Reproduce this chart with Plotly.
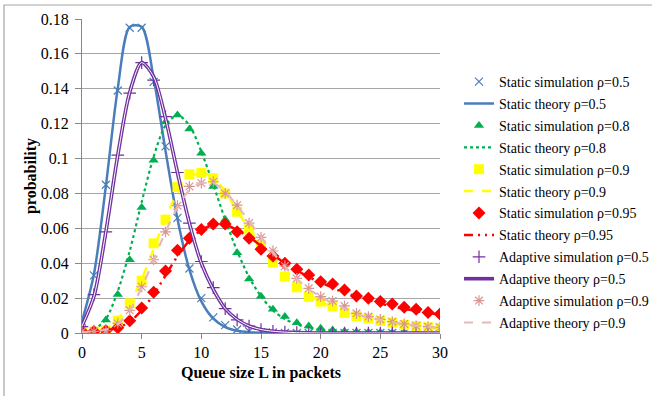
import plotly.graph_objects as go

# Queue length L (packets)
queue_len = list(range(0, 31))

static_sim_05 = [0.0065, 0.033, 0.085, 0.139, 0.175, 0.175, 0.144, 0.107, 0.066, 0.037, 0.020,
                 0.009, 0.0045, 0.002, 0.001, 0.0005, 0.0003, 0.0001, 0, 0, 0,
                 0, 0, 0, 0, 0, 0, 0, 0, 0, 0]
static_th_05 = [0.0067, 0.0337, 0.0842, 0.1404, 0.1755, 0.1755, 0.1462, 0.1044, 0.0653, 0.0363, 0.0181,
                0.0082, 0.0034, 0.0013, 0.0005, 0.0002, 0.0001, 0, 0, 0, 0,
                0, 0, 0, 0, 0, 0, 0, 0, 0, 0]

static_sim_08 = [0.0005, 0.0017, 0.0075, 0.022, 0.042, 0.072, 0.099, 0.121, 0.125, 0.117, 0.103,
                 0.084, 0.065, 0.046, 0.031, 0.021, 0.0136, 0.0094, 0.0059, 0.004, 0.0027,
                 0.0017, 0.001, 0.0007, 0.0005, 0.0003, 0.0002, 0.0001, 0.0001, 0.0001, 0]
static_th_08 = [0.0005, 0.002, 0.008, 0.024, 0.047, 0.075, 0.101, 0.119, 0.125, 0.119, 0.104,
                0.085, 0.065, 0.047, 0.032, 0.021, 0.013, 0.008, 0.005, 0.003, 0.0017,
                0.001, 0.0006, 0.0003, 0.0002, 0.0001, 0.0001, 0, 0, 0, 0]

static_sim_09 = [0.0008, 0.0008, 0.0015, 0.007, 0.017, 0.030, 0.0514, 0.065, 0.0837, 0.091, 0.0918,
                 0.0887, 0.080, 0.0695, 0.0594, 0.0504, 0.0403, 0.0323, 0.0262, 0.0208, 0.018,
                 0.0152, 0.0115, 0.0097, 0.0084, 0.0069, 0.0059, 0.0046, 0.004, 0.0033, 0.0027]
static_th_09 = [0.0005, 0.001, 0.003, 0.008, 0.017, 0.031, 0.048, 0.066, 0.080, 0.089, 0.092,
                0.089, 0.081, 0.070, 0.060, 0.050, 0.041, 0.033, 0.027, 0.022, 0.018,
                0.015, 0.012, 0.010, 0.008, 0.0065, 0.0053, 0.0043, 0.0035, 0.0029, 0.0024]

static_sim_095 = [0.0008, 0.0008, 0.0013, 0.003, 0.007, 0.0143, 0.0234, 0.0355, 0.0475, 0.0543, 0.0594,
                  0.0625, 0.0625, 0.058, 0.0543, 0.048, 0.0441, 0.040, 0.0365, 0.0332, 0.0294,
                  0.0281, 0.0246, 0.0212, 0.0199, 0.018, 0.0166, 0.0147, 0.0136, 0.0117, 0.0109]
static_th_095 = [0.0003, 0.0008, 0.0015, 0.003, 0.0065, 0.013, 0.022, 0.033, 0.044, 0.053, 0.059,
                 0.062, 0.062, 0.059, 0.055, 0.050, 0.045, 0.040, 0.036, 0.032, 0.029,
                 0.026, 0.023, 0.021, 0.019, 0.017, 0.015, 0.014, 0.0125, 0.0115, 0.0105]

adapt_sim_05 = [0.0036, 0.022, 0.058, 0.102, 0.1375, 0.155, 0.145, 0.124, 0.092, 0.063, 0.041,
                0.026, 0.014, 0.0075, 0.004, 0.002, 0.001, 0.0005, 0.0002, 0.0001, 0,
                0, 0, 0, 0, 0, 0, 0, 0, 0, 0]
adapt_th_05 = [0.004, 0.021, 0.058, 0.102, 0.138, 0.155, 0.147, 0.123, 0.092, 0.063, 0.040,
               0.025, 0.014, 0.0078, 0.004, 0.002, 0.001, 0.0005, 0.0002, 0.0001, 0,
               0, 0, 0, 0, 0, 0, 0, 0, 0, 0]

adapt_sim_09 = [0.0008, 0.0009, 0.0013, 0.0055, 0.013, 0.0265, 0.042, 0.058, 0.073, 0.084, 0.086,
                0.0867, 0.080, 0.0733, 0.063, 0.0548, 0.047, 0.0384, 0.0313, 0.0256, 0.0208,
                0.0183, 0.0155, 0.0113, 0.0094, 0.0078, 0.0065, 0.0052, 0.004, 0.0036, 0.0033]
adapt_th_09 = [0.0005, 0.001, 0.002, 0.005, 0.013, 0.026, 0.042, 0.058, 0.072, 0.082, 0.086,
               0.086, 0.081, 0.073, 0.064, 0.055, 0.046, 0.038, 0.031, 0.025, 0.021,
               0.017, 0.014, 0.011, 0.009, 0.0075, 0.0062, 0.0051, 0.0042, 0.0035, 0.0029]

y_ticks = [0, 0.02, 0.04, 0.06, 0.08, 0.1, 0.12, 0.14, 0.16, 0.18]
y_tick_text = ["0", "0.02", "0.04", "0.06", "0.08", "0.1", "0.12", "0.14", "0.16", "0.18"]
x_ticks = [0, 5, 10, 15, 20, 25, 30]

BLUE = "#4a7ebb"
GREEN = "#00b050"
YELLOW = "#ffff00"
RED = "#ff0000"
PURPLE = "#7030a0"
PINK = "#d99694"
PINK_LINE = "#e6b9b8"

SERIF = "Liberation Serif"

fig = go.Figure()


def sim(name, y, symbol, color, size, lw=1.2):
    marker = dict(symbol=symbol, size=size, color=color)
    if symbol.endswith("open"):
        marker["line"] = dict(color=color, width=lw)
    else:
        marker["line"] = dict(width=0)
    fig.add_trace(go.Scatter(x=queue_len, y=y, mode="markers", name=name,
                             marker=marker, legendgroup=name))


def theory(name, y, color, width, dash="solid", showlegend=True, group=None):
    fig.add_trace(go.Scatter(x=queue_len, y=y, mode="lines", name=name,
                             line=dict(color=color, width=width, dash=dash,
                                       shape="spline", smoothing=0.8),
                             showlegend=showlegend,
                             legendgroup=group or name))


sim("Static simulation ρ=0.5", static_sim_05, "x-thin-open", BLUE, 8)
theory("Static theory ρ=0.5", static_th_05, BLUE, 2.5)
sim("Static simulation ρ=0.8", static_sim_08, "triangle-up", GREEN, 9)
theory("Static theory ρ=0.8", static_th_08, GREEN, 2.2, dash="dot")
sim("Static simulation ρ=0.9", static_sim_09, "square", YELLOW, 10)
theory("Static theory ρ=0.9", static_th_09, YELLOW, 2.5, dash="dash")
sim("Static simulation ρ=0.95", static_sim_095, "diamond", RED, 10)
theory("Static theory ρ=0.95", static_th_095, RED, 2.5, dash="9px,5px,2px,5px,2px,5px")
sim("Adaptive simulation ρ=0.5", adapt_sim_05, "cross-thin-open", PURPLE, 9)
# double line: thick purple with a thin white core
theory("Adaptive theory ρ=0.5", adapt_th_05, PURPLE, 3.6)
theory("Adaptive theory ρ=0.5 core", adapt_th_05, "white", 1.0, showlegend=False,
       group="Adaptive theory ρ=0.5")
sim("Adaptive simulation ρ=0.9", adapt_sim_09, "asterisk-open", PINK, 9)
theory("Adaptive theory ρ=0.9", adapt_th_09, PINK_LINE, 2.2, dash="dash")

# chart frame (outer border)
fig.add_shape(type="rect", xref="paper", yref="paper",
              x0=(4 - 82) / 358, x1=(700 - 82) / 358,
              y0=(333 - 430) / 314, y1=(333 - 5) / 314,
              line=dict(color="#a6a6a6", width=1.2), fillcolor="rgba(0,0,0,0)",
              layer="below")

fig.update_layout(
    width=652, height=396,
    margin=dict(l=82, r=212, t=19, b=63, autoexpand=False),
    paper_bgcolor="white", plot_bgcolor="white",
    font=dict(family=SERIF, color="black"),
    legend=dict(xref="container", yref="container",
                x=459 / 652, y=1 - 66 / 396, xanchor="left", yanchor="top",
                font=dict(family=SERIF, size=14, color="black"),
                bgcolor="rgba(0,0,0,0)", tracegroupgap=0.7, itemwidth=30,
                maxheight=330),
    showlegend=True,
)

fig.update_xaxes(range=[0, 30], tickvals=x_ticks, showgrid=False, zeroline=False,
                 showline=True, linecolor="#868686", linewidth=1,
                 ticks="outside", ticklen=5, tickcolor="#868686",
                 tickfont=dict(family=SERIF, size=16),
                 title=dict(text="<b>Queue size L in packets</b>",
                            font=dict(family=SERIF, size=16), standoff=6))
fig.update_yaxes(range=[0, 0.18], tickvals=y_ticks, ticktext=y_tick_text,
                 showgrid=True, gridcolor="#a6a6a6", gridwidth=1, zeroline=False,
                 showline=True, linecolor="#868686", linewidth=1,
                 ticks="outside", ticklen=6, tickcolor="#868686",
                 ticklabelstandoff=3,
                 tickfont=dict(family=SERIF, size=16),
                 title=dict(text="<b>probability</b>",
                            font=dict(family=SERIF, size=16), standoff=0))

fig.write_html("out.html")
